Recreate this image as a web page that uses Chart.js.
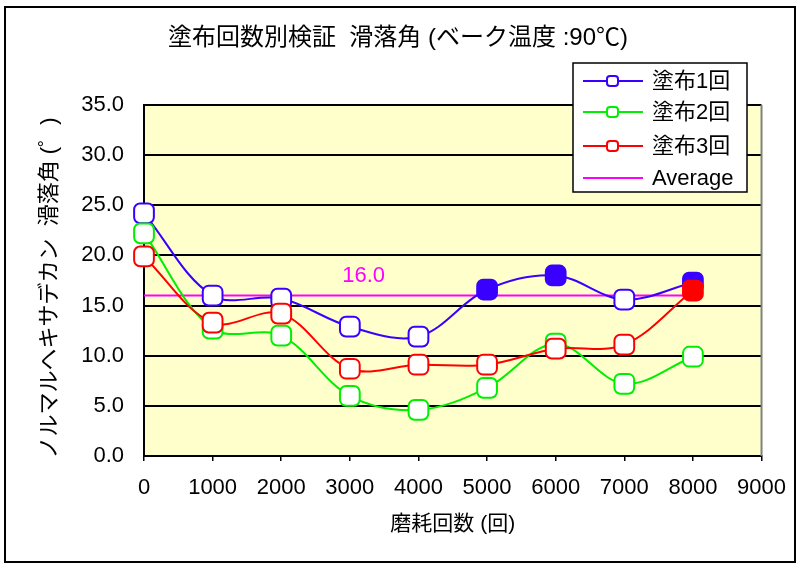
<!DOCTYPE html>
<html lang="ja">
<head>
<meta charset="UTF-8">
<title>塗布回数別検証 滑落角</title>
<script src="https://cdn.jsdelivr.net/npm/chart.js"></script>
<style>
  html, body { margin: 0; padding: 0; background: #ffffff; }
  #wrap { width: 800px; height: 569px; }
</style>
</head>
<body>
<div id="wrap"><canvas id="chart" width="800" height="569"></canvas></div>
<script>
  // 磨耗回数 (x) と各塗布回数の滑落角
  const cycles = [0, 1000, 2000, 3000, 4000, 5000, 6000, 7000, 8000];
  const coat1 = [24.2, 16.0, 15.7, 12.9, 11.9, 16.6, 18.0, 15.6, 17.3];
  const coat2 = [22.2, 12.7, 12.0, 6.0, 4.6, 6.8, 11.2, 7.2, 9.9];
  const coat3 = [19.9, 13.3, 14.2, 8.7, 9.1, 9.1, 10.7, 11.1, 16.5];
  const average = 16.0;
  const seriesNames = ['塗布1回', '塗布2回', '塗布3回', 'Average'];
  const chartTitle = '塗布回数別検証  滑落角 (ベーク温度 :90℃)';
  const xTitle = '磨耗回数 (回)';
  const yTitle = 'ノルマルヘキサデカン  滑落角 (゜)';

  const FONT = '"Liberation Sans", Arial, "Noto Sans CJK JP", sans-serif';
  const BLUE = '#3a00ff', GREEN = '#00ee00', RED = '#ff0000', MAGENTA = '#ff00ff';

  const toPoints = arr => arr.map((v, i) => ({ x: cycles[i], y: v }));

  function lineSet(label, data, color, filled, order) {
    return {
      label,
      data: toPoints(data),
      borderColor: color,
      borderWidth: 2,
      tension: 0.35,
      clip: false,
      pointStyle: 'rectRounded',
      pointRadius: 11.5,
      pointHoverRadius: 11.5,
      pointBorderWidth: 2,
      pointBorderColor: color,
      pointBackgroundColor: ctx => filled.includes(ctx.dataIndex) ? color : '#ffffff',
      order
    };
  }

  const deco = {
    id: 'deco',
    beforeDraw(chart) {
      const { ctx, chartArea: a } = chart;
      ctx.save();
      ctx.fillStyle = '#ffffcc';
      ctx.fillRect(a.left, a.top, a.right - a.left, a.bottom - a.top);
      ctx.restore();
    },
    afterDatasetsDraw(chart) {
      const { ctx, scales } = chart;
      ctx.save();
      // 平均値ラベル
      ctx.fillStyle = MAGENTA;
      ctx.font = '22px ' + FONT;
      ctx.textAlign = 'center';
      ctx.textBaseline = 'middle';
      ctx.fillText(average.toFixed(1), scales.x.getPixelForValue(3200), scales.y.getPixelForValue(average) - 20);
      ctx.restore();
    },
    afterDraw(chart) {
      const { ctx, chartArea: a } = chart;
      ctx.save();
      // plot right edge
      ctx.strokeStyle = '#808080';
      ctx.lineWidth = 2;
      ctx.beginPath();
      ctx.moveTo(a.right, a.top);
      ctx.lineTo(a.right, a.bottom);
      ctx.stroke();

      // outer frame
      ctx.strokeStyle = '#000000';
      ctx.lineWidth = 2;
      ctx.strokeRect(5, 7, 790, 555);

      // title
      ctx.fillStyle = '#000000';
      ctx.font = '24px ' + FONT;
      ctx.textAlign = 'center';
      ctx.textBaseline = 'middle';
      ctx.fillText(chartTitle, 398, 38);

      // y axis title
      ctx.save();
      ctx.translate(50, 288);
      ctx.rotate(-Math.PI / 2);
      ctx.font = '22px ' + FONT;
      ctx.fillText(yTitle, 0, 0);
      ctx.restore();

      // legend
      const bx = 573, by = 63, bw = 174, bh = 129;
      ctx.fillStyle = '#ffffff';
      ctx.fillRect(bx, by, bw, bh);
      ctx.strokeStyle = '#000000';
      ctx.lineWidth = 1.5;
      ctx.strokeRect(bx, by, bw, bh);
      const colors = [BLUE, GREEN, RED, MAGENTA];
      const rows = [81, 112, 146, 178];
      ctx.font = '22px ' + FONT;
      ctx.textAlign = 'left';
      seriesNames.forEach((name, i) => {
        const y = rows[i];
        ctx.strokeStyle = colors[i];
        ctx.lineWidth = 2;
        ctx.beginPath();
        ctx.moveTo(583, y);
        ctx.lineTo(643, y);
        ctx.stroke();
        if (i < 3) {
          ctx.fillStyle = '#ffffff';
          ctx.beginPath();
          ctx.roundRect(607, y - 5, 11, 10, 3);
          ctx.fill();
          ctx.stroke();
        }
        ctx.fillStyle = '#000000';
        ctx.fillText(name, 652, y + 1);
      });
      ctx.restore();
    }
  };

  new Chart(document.getElementById('chart'), {
    type: 'line',
    data: {
      datasets: [
        lineSet(seriesNames[0], coat1, BLUE, [5, 6, 8], 2),
        lineSet(seriesNames[1], coat2, GREEN, [], 1),
        lineSet(seriesNames[2], coat3, RED, [8], 0),
        {
          label: seriesNames[3],
          data: [{ x: cycles[0], y: average }, { x: cycles[cycles.length - 1], y: average }],
          borderColor: MAGENTA,
          borderWidth: 2,
          pointRadius: 0,
          order: 3
        }
      ]
    },
    options: {
      responsive: false,
      devicePixelRatio: 1,
      animation: false,
      layout: { padding: { top: 105, right: 35, left: 0, bottom: 0 } },
      plugins: {
        legend: { display: false },
        tooltip: { enabled: false },
        title: { display: false }
      },
      scales: {
        x: {
          type: 'linear',
          min: 0,
          max: 9000,
          ticks: { stepSize: 1000, padding: 14, color: '#000', font: { family: FONT, size: 22 }, maxRotation: 0, callback: v => String(v) },
          grid: { drawOnChartArea: false, drawTicks: true, tickLength: 5, color: '#000', lineWidth: 1.5 },
          border: { color: '#000', width: 2 },
          title: { display: true, text: xTitle, color: '#000', font: { family: FONT, size: 21 }, padding: { bottom: 32 } },
          afterFit(scale) { scale.height = 113; }
        },
        y: {
          min: 0,
          max: 35,
          ticks: { stepSize: 5, padding: 20, color: '#000', font: { family: FONT, size: 22 }, callback: v => v.toFixed(1) },
          grid: { drawTicks: false, color: '#000', lineWidth: 2 },
          border: { color: '#000', width: 2 },
          afterFit(scale) { scale.width = 144; }
        }
      }
    },
    plugins: [deco]
  });
</script>
</body>
</html>
